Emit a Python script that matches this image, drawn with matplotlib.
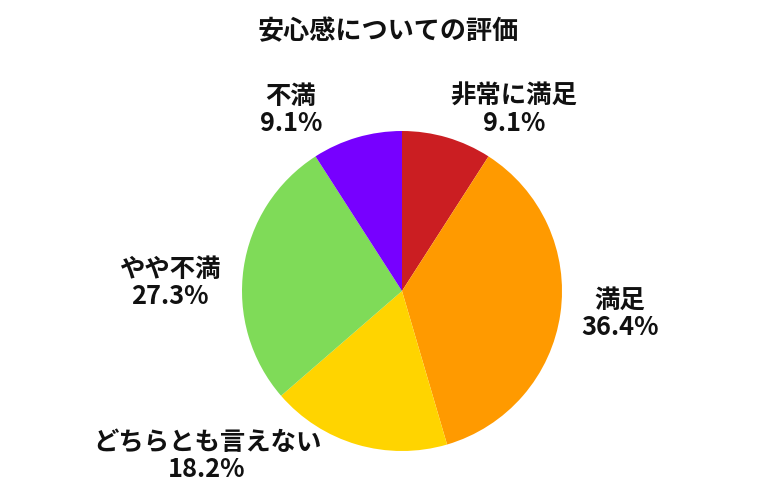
import matplotlib
matplotlib.use("Agg")
from matplotlib import pyplot as plt

plt.rcParams['font.family'] = ['Noto Sans CJK JP', 'DejaVu Sans']

# data
categories = ["非常に満足", "満足", "どちらとも言えない", "やや不満", "不満"]
shares = [9.1, 36.4, 18.2, 27.3, 9.1]
colors = ["#CB1E22", "#FF9A00", "#FFD400", "#7FDB58", "#7700FF"]
title = "安心感についての評価"

# label anchor points in pixel space (x, y from top)
label_pos = [(514, 110), (620, 314), (207, 456), (170, 283), (291, 110)]

W, H = 780, 500
fig = plt.figure(figsize=(W / 100, H / 100), dpi=100)
ax = fig.add_axes([0, 0, 1, 1])

ax.pie(shares, colors=colors, startangle=90, counterclock=False,
       center=(402, H - 291), radius=160, frame=True,
       wedgeprops=dict(linewidth=0))
ax.set_xlim(0, W)
ax.set_ylim(0, H)
ax.set_aspect('equal')
ax.axis('off')

for name, val, (px, py) in zip(categories, shares, label_pos):
    ax.text(px, H - py, f"{name}\n{val:.1f}%", ha='center', va='center',
            fontsize=18.3, fontweight='bold', linespacing=1.0, color='#111111')

fig.text(388 / W, 1 - 32 / H, title, ha='center', va='center',
         fontsize=18.8, fontweight='bold', color='#111111')

fig.savefig("out.png", dpi=100)
